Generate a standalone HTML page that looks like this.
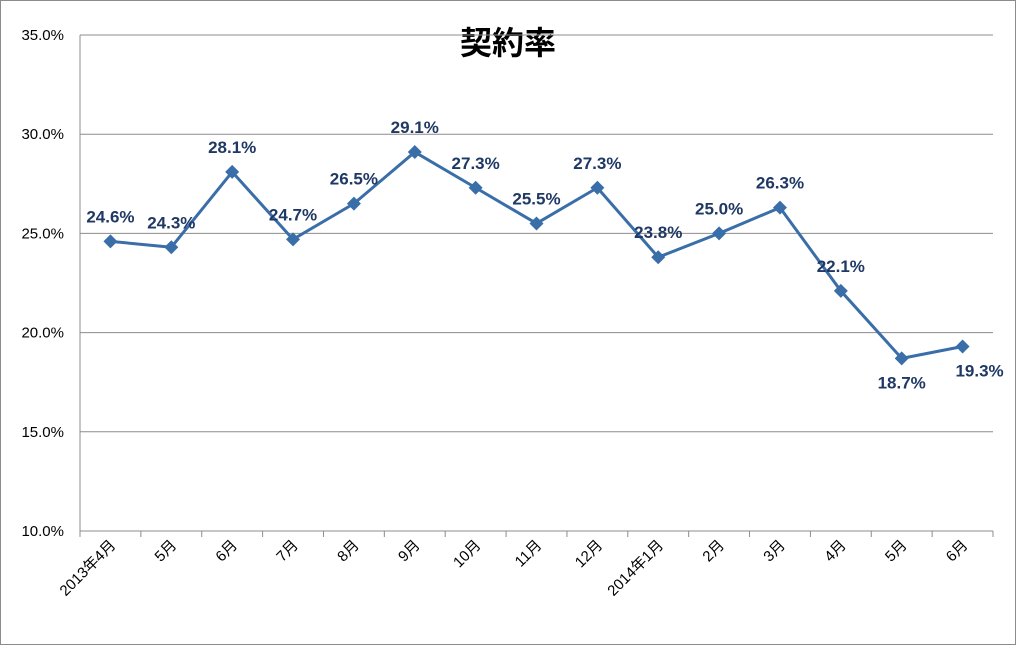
<!DOCTYPE html>
<html><head><meta charset="utf-8"><style>
html,body{margin:0;padding:0;background:#fff}
svg{display:block}
text{font-family:"Liberation Sans","Noto Sans CJK JP",sans-serif}
</style></head><body>
<svg id="chart" width="1016" height="645" viewBox="0 0 1016 645">
<rect x="0.5" y="0.5" width="1015" height="644" fill="#fff" stroke="#8c8c8c"/>
<text x="508" y="54" text-anchor="middle" font-size="32" font-weight="bold" fill="#000">契約率</text>
<g id="grid"></g><g id="axes"></g><g id="series"></g><g id="labels"></g>
</svg>
<script>
const categories=["2013年4月","5月","6月","7月","8月","9月","10月","11月","12月","2014年1月","2月","3月","4月","5月","6月"];
const values=[24.6,24.3,28.1,24.7,26.5,29.1,27.3,25.5,27.3,23.8,25.0,26.3,22.1,18.7,19.3];
const yTicks=[10,15,20,25,30,35];
const labelPos=["t","t","t","t","t","t","t","t","t","t","t","t","t","b","r"];
const L=80,R=993,T=35,B=531,yMin=10,yMax=35;
const ns="http://www.w3.org/2000/svg";
const step=(R-L)/categories.length;
const x=i=>L+step*(i+0.5);
const y=v=>B-(v-yMin)/(yMax-yMin)*(B-T);
function mk(tag,attrs,parent){const e=document.createElementNS(ns,tag);for(const k in attrs)e.setAttribute(k,attrs[k]);parent.appendChild(e);return e;}
const grid=document.getElementById('grid'),axes=document.getElementById('axes'),series=document.getElementById('series'),labels=document.getElementById('labels');
yTicks.forEach(t=>{
 const g=mk('line',{x1:L,x2:R,y1:y(t),y2:y(t),stroke:'#8c8c8c','stroke-width':1},grid);
 
 
 const tx=mk('text',{x:L-16,y:y(t)+5,'text-anchor':'end','font-size':15,fill:'#000'},axes);
 tx.textContent=t.toFixed(1)+'%';
 
 
});
const ax=mk('line',{x1:L,x2:L,y1:T,y2:B,stroke:'#8c8c8c'},axes);


const bx=mk('line',{x1:L,x2:R,y1:B,y2:B,stroke:'#8c8c8c'},axes);


for(let i=0;i<=categories.length;i++){
 const tk=mk('line',{x1:L+step*i,x2:L+step*i,y1:B,y2:B+6,stroke:'#8c8c8c'},axes);
 
 
}
categories.forEach((c,i)=>{
 const cx=x(i)+6,cy=B+15;
 const t=mk('text',{x:cx,y:cy,'text-anchor':'end','font-size':15,fill:'#000',transform:`rotate(-45 ${cx} ${cy})`},axes);
 t.textContent=c;
 
 
});
const pl=mk('polyline',{points:values.map((v,i)=>x(i)+','+y(v)).join(' '),fill:'none',stroke:'#3a6ea8','stroke-width':3,'stroke-linejoin':'round'},series);


values.forEach((v,i)=>{
 const px=x(i),py=y(v),s=7;
 const m=mk('polygon',{points:`${px},${py-s} ${px+s},${py} ${px},${py+s} ${px-s},${py}`,fill:'#3a6ea8'},series);
 
 
 let lx=px,ly=py-19,anchor='middle';
 if(labelPos[i]==='b'){ly=py+30;}
 if(labelPos[i]==='r'){lx=px+17;ly=py+30;}
 const t=mk('text',{x:lx,y:ly,'text-anchor':anchor,'font-size':17,'font-weight':'bold',fill:'#1f3864'},labels);
 t.textContent=v.toFixed(1)+'%';
 
 
});
</script>
</body></html>
